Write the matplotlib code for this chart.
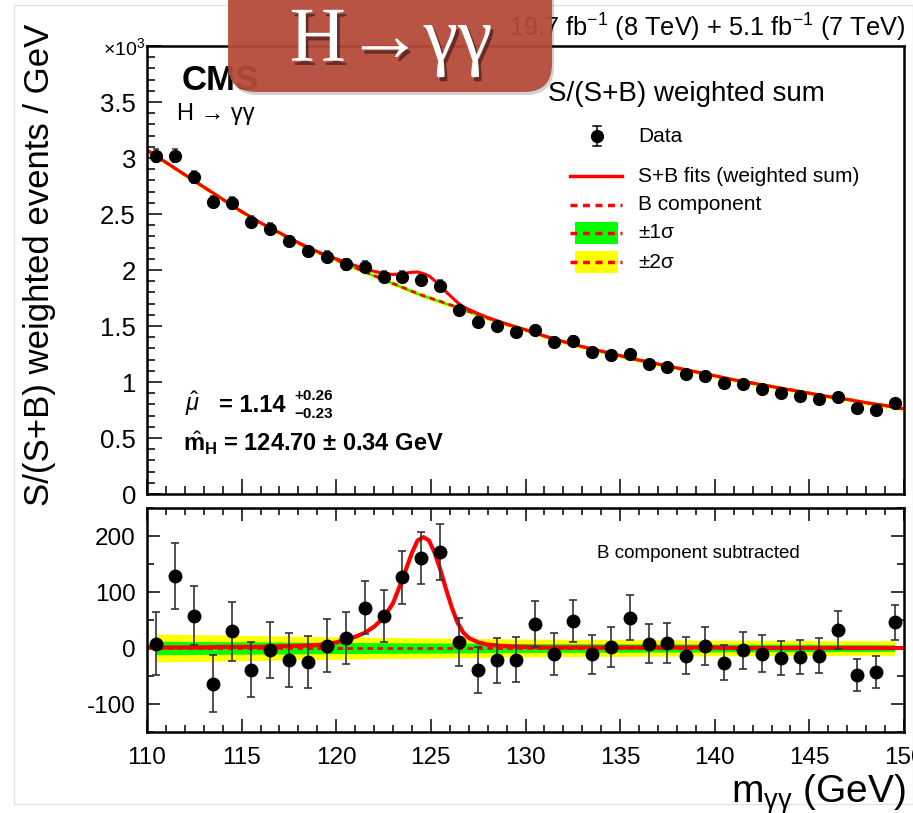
import numpy as np
import matplotlib
matplotlib.use("Agg")
import matplotlib.pyplot as plt
from matplotlib.patches import FancyBboxPatch, Rectangle
from matplotlib.lines import Line2D
from matplotlib.ticker import MultipleLocator, FuncFormatter
import matplotlib.patheffects as pe

plt.rcParams["font.family"] = ["Liberation Sans", "DejaVu Sans"]
plt.rcParams["mathtext.fontset"] = "custom"
plt.rcParams["mathtext.rm"] = "Liberation Sans"
plt.rcParams["mathtext.it"] = "Liberation Sans:italic"
plt.rcParams["mathtext.bf"] = "Liberation Sans:bold"
plt.rcParams["axes.unicode_minus"] = False

# --- data (top panel in units of 10^3 events / GeV) ---
mass_bins = np.arange(110.5, 150.0, 1.0)
data_top = np.array([3.02, 3.02, 2.83, 2.61, 2.60, 2.43, 2.37, 2.26, 2.17, 2.12,
                     2.05, 2.03, 1.94, 1.94, 1.91, 1.86, 1.64, 1.54, 1.50, 1.45,
                     1.46, 1.36, 1.37, 1.27, 1.24, 1.25, 1.16, 1.13, 1.07, 1.05,
                     0.99, 0.98, 0.94, 0.90, 0.875, 0.85, 0.87, 0.765, 0.75, 0.81])
data_sub = np.array([8, 129, 58, -64, 30, -39, -4, -22, -25, 4,
                     18, 72, 57, 126, 161, 171, 11, -40, -22, -21,
                     43, -11, 48, -11, 2, 54, 8, 9, -14, 3,
                     -26, -4, -10, -18, -16, -14, 32, -48, -43, 46])
data_err = np.array([57, 59, 53, 51, 53, 49, 50, 48, 46, 47,
                     47, 47, 47, 47, 47, 50, 43, 41, 40, 40,
                     41, 38, 37, 35, 36, 40, 35, 36, 33, 34,
                     32, 33, 33, 31, 30, 31, 34, 29, 28, 31])

fit_mass = np.array([110, 111, 112, 113, 114, 115, 116, 117, 118, 119, 120,
                     120.5, 121, 121.5, 122, 122.5, 123, 123.5, 124, 124.3,
                     124.6, 124.9, 125.2, 125.5, 125.8, 126.1, 126.4, 126.7,
                     127, 127.5, 128, 129, 130, 131, 132, 133, 134, 135, 136,
                     137, 138, 139, 140, 141, 142, 143, 144, 145, 146, 147,
                     148, 149, 150])
fit_bkg = np.array([3.07, 2.96, 2.85, 2.74, 2.63, 2.52, 2.42, 2.33, 2.24, 2.16, 2.09,
                    2.055, 2.02, 1.985, 1.95, 1.915, 1.88, 1.845, 1.81, 1.79,
                    1.77, 1.755, 1.735, 1.72, 1.70, 1.685, 1.665, 1.645,
                    1.63, 1.60, 1.57, 1.515, 1.465, 1.41, 1.36, 1.315, 1.275, 1.235, 1.195,
                    1.16, 1.125, 1.09, 1.055, 1.02, 0.99, 0.96, 0.93, 0.90, 0.87, 0.845,
                    0.815, 0.79, 0.76])
fit_sig = np.array([1, 1, 1, 1, 2, 2, 2, 3, 4, 5, 10,
                    15, 20, 27, 38, 54, 80, 123, 170, 192,
                    198, 192, 170, 140, 105, 73, 46, 28,
                    18, 10, 6, 3, 2, 1, 1, 1, 1, 1, 1,
                    1, 1, 1, 1, 0, 0, 0, 0, 0, 0, 0,
                    0, 0, 0])

band_mass = np.array([110.5, 120, 130, 140, 149.5])
band_1s = np.array([12, 10, 8, 7, 6])
band_2s = np.array([25, 20, 16, 14, 13])
band_top_1s = 0.010
band_top_2s = 0.020

RED = "#ff0000"
GREEN = "#00ff00"
YELLOW = "#ffff00"
DASH = (0, (2.0, 1.6))

W, H = 913, 813


def fx(x):
    return x / W


def fy(y):
    return 1 - y / H


fig = plt.figure(figsize=(W / 100, H / 100), dpi=100)
ax = fig.add_axes([fx(147), fy(494), (904 - 147) / W, (494 - 46) / H])
axr = fig.add_axes([fx(147), fy(732), (904 - 147) / W, (732 - 508) / H])

# --- top panel ---
ax.fill_between(fit_mass, fit_bkg - band_top_2s, fit_bkg + band_top_2s, color=YELLOW, lw=0)
ax.fill_between(fit_mass, fit_bkg - band_top_1s, fit_bkg + band_top_1s, color=GREEN, lw=0)
ax.plot(fit_mass, fit_bkg, color=RED, ls=DASH, lw=2)
ax.plot(fit_mass, fit_bkg + fit_sig / 1000.0, color=RED, lw=2.2)
ax.errorbar(mass_bins, data_top, yerr=data_err / 1000.0, fmt="o", ms=8.5, color="k",
            ecolor="#333333", elinewidth=1.1, capsize=2.5, capthick=1.1, zorder=5)
ax.set_xlim(110, 150)
ax.set_ylim(0, 4)

# --- bottom panel ---
axr.fill_between(band_mass, -band_2s, band_2s, color=YELLOW, lw=0)
axr.fill_between(band_mass, -band_1s, band_1s, color=GREEN, lw=0)
axr.axhline(0, color=RED, ls=DASH, lw=2)
axr.plot(fit_mass, fit_sig, color=RED, lw=3)
axr.errorbar(mass_bins, data_sub, yerr=data_err, fmt="o", ms=9, color="k",
             ecolor="#333333", elinewidth=1.2, capsize=3, capthick=1.2, zorder=5)
axr.set_xlim(110, 150)
axr.set_ylim(-150, 250)

for a in (ax, axr):
    for s in a.spines.values():
        s.set_linewidth(1.8)
    a.xaxis.set_major_locator(MultipleLocator(5))
    a.xaxis.set_minor_locator(MultipleLocator(1))

ax.yaxis.set_major_locator(MultipleLocator(0.5))
ax.yaxis.set_minor_locator(MultipleLocator(0.1))
ax.yaxis.set_major_formatter(FuncFormatter(lambda v, p: "" if v > 3.9 else f"{v:g}"))
ax.tick_params(which="both", direction="in", top=False, right=False, width=1.1)
ax.tick_params(which="major", length=10.5)
ax.tick_params(which="minor", length=5.5)
ax.tick_params(axis="x", labelbottom=False)
ax.tick_params(axis="y", labelsize=18.5, pad=8)

axr.yaxis.set_major_locator(MultipleLocator(100))
axr.yaxis.set_minor_locator(MultipleLocator(50))
axr.tick_params(which="both", direction="in", top=True, right=True, width=1.1)
axr.tick_params(which="major", length=9.5)
axr.tick_params(which="minor", length=5)
axr.tick_params(axis="y", labelsize=17.5, pad=8)
axr.tick_params(axis="x", labelsize=17.5, pad=11)

# --- axis titles and labels ---
fig.text(fx(40), fy(265), "S/(S+B) weighted events / GeV", rotation=90,
         ha="center", va="center", fontsize=25)
fig.text(fx(906), fy(803), r"m$_{\mathrm{γγ}}$ (GeV)", ha="right", va="baseline", fontsize=28)
fig.text(fx(145), fy(55), r"×10$^{3}$", ha="right", va="baseline", fontsize=14)
fig.text(fx(905), fy(37), r"19.7 fb$^{-1}$ (8 TeV) + 5.1 fb$^{-1}$ (7 TeV)",
         ha="right", va="baseline", fontsize=18.3, zorder=2)

fig.text(fx(182), fy(80), "CMS", fontweight="bold", fontsize=25, va="center", zorder=2)
fig.text(fx(177), fy(114), "H → γγ", fontsize=17, va="center")

fig.text(fx(185), fy(404), r"$\hat{\mu}$", fontsize=17, va="center")
fig.text(fx(219), fy(405), "= 1.14", fontsize=17, fontweight="bold", va="center")
fig.text(fx(294), fy(396), "+0.26", fontsize=11, fontweight="bold", va="center")
fig.text(fx(294), fy(414), "−0.23", fontsize=11, fontweight="bold", va="center")
fig.text(fx(183), fy(443), r"$\hat{\mathbf{m}}_{\mathbf{H}}$ = 124.70 ± 0.34 GeV",
         fontsize=17, fontweight="bold", va="center")

fig.text(fx(597), fy(553), "B component subtracted", fontsize=13.5, va="center")

# --- legend ---
fig.text(fx(548), fy(94), "S/(S+B) weighted sum", fontsize=20, va="center")
leg_x0, leg_x1, leg_tx = 570, 622, 638
fig.add_artist(Line2D([fx(597)] * 2, [fy(126), fy(146)], color="k", lw=1.1))
fig.add_artist(Line2D([fx(593), fx(601)], [fy(126)] * 2, color="k", lw=1.1))
fig.add_artist(Line2D([fx(593), fx(601)], [fy(146)] * 2, color="k", lw=1.1))
fig.add_artist(Line2D([fx(597)], [fy(136)], marker="o", ms=8.5, color="k"))
fig.text(fx(leg_tx), fy(136), "Data", fontsize=15, va="center")

fig.add_artist(Line2D([fx(leg_x0), fx(leg_x1)], [fy(176)] * 2, color=RED, lw=2.5))
fig.text(fx(leg_tx), fy(176), "S+B fits (weighted sum)", fontsize=15, va="center")

fig.add_artist(Line2D([fx(leg_x0), fx(leg_x1)], [fy(205)] * 2, color=RED, lw=2.5, ls=DASH))
fig.text(fx(leg_tx), fy(205), "B component", fontsize=15, va="center")

for yc, col, lab in ((233, GREEN, "±1σ"), (262, YELLOW, "±2σ")):
    fig.add_artist(Rectangle((fx(575), fy(yc + 11)), (618 - 575) / W, 22 / H,
                             transform=fig.transFigure, color=col, lw=0))
    fig.add_artist(Line2D([fx(leg_x0), fx(leg_x1)], [fy(yc)] * 2, color=RED, lw=2.5, ls=DASH))
    fig.text(fx(leg_tx), fy(yc), lab, fontsize=15, va="center")

# --- title badge ---
shadow = FancyBboxPatch((2.30, (H - 95) / 100), 3.24, 1.4,
                        boxstyle="round,pad=0,rounding_size=0.28",
                        transform=fig.dpi_scale_trans, fc="black", ec="none",
                        alpha=0.18, zorder=4)
fig.add_artist(shadow)
badge = FancyBboxPatch((2.28, (H - 92) / 100), 3.24, 1.4,
                       boxstyle="round,pad=0,rounding_size=0.28",
                       transform=fig.dpi_scale_trans, fc="#b84b3a", ec="none",
                       alpha=0.93, zorder=5)
fig.add_artist(badge)
fig.text(fx(391), fy(42), "H→γγ", fontsize=56, color="white", ha="center", va="center",
         family=["Liberation Serif", "DejaVu Serif"], zorder=6,
         path_effects=[pe.withSimplePatchShadow(offset=(2, -3), shadow_rgbFace="black", alpha=0.45)])

# faint screenshot frame
fig.add_artist(Rectangle((fx(14), fy(804)), (913 - 14) / W, (804 - 5) / H,
                         transform=fig.transFigure, fill=False, ec="#e2e2e2", lw=1, zorder=0))

fig.savefig("out.png", dpi=100)
